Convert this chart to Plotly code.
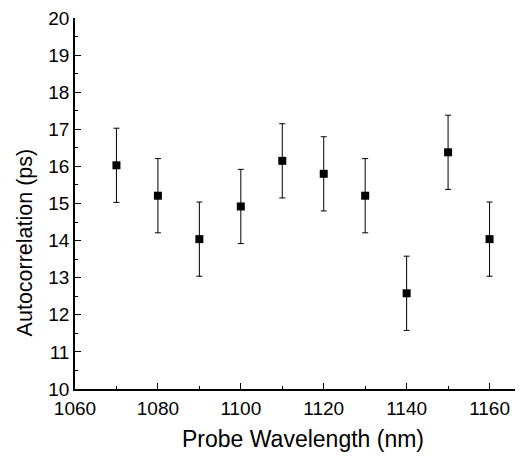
import plotly.graph_objects as go

wavelength = [1070, 1080, 1090, 1100, 1110, 1120, 1130, 1140, 1150, 1160]
autocorr = [16.03, 15.21, 14.04, 14.92, 16.15, 15.80, 15.21, 12.58, 16.38, 14.04]
error = [1.0, 1.0, 1.0, 1.0, 1.0, 1.0, 1.0, 1.0, 1.0, 1.0]

x_ticks = [1060, 1080, 1100, 1120, 1140, 1160]
y_ticks = [10, 11, 12, 13, 14, 15, 16, 17, 18, 19, 20]

fig = go.Figure(go.Scatter(
    x=wavelength, y=autocorr, mode="markers",
    marker=dict(symbol="square", size=8, color="black"),
    error_y=dict(type="data", array=error, visible=True, color="black", thickness=1, width=3),
))

font = "Liberation Sans, Arial, sans-serif"
fig.update_layout(
    width=523, height=458,
    margin=dict(l=67, r=0, t=10, b=77),
    paper_bgcolor="white", plot_bgcolor="white",
    font=dict(family=font, size=19, color="black"),
    showlegend=False,
)
fig.update_xaxes(
    range=[1060, 1170], tickvals=x_ticks, ticktext=[str(v) for v in x_ticks],
    showgrid=False, zeroline=False, showline=True, linecolor="black", linewidth=1.5,
    ticks="inside", ticklen=6, tickwidth=1.3, tickcolor="black",
    minor=dict(tickvals=[1070, 1090, 1110, 1130, 1150], ticks="inside", ticklen=3, tickwidth=1.3, tickcolor="black"),
    tickfont=dict(size=19), automargin=False, ticklabeloverflow="allow", ticklabelstandoff=1,
)
fig.update_yaxes(
    range=[10, 20], tickvals=y_ticks, ticktext=[str(v) for v in y_ticks],
    showgrid=False, zeroline=False, showline=True, linecolor="black", linewidth=1.5,
    ticks="inside", ticklen=6, tickwidth=1.3, tickcolor="black",
    minor=dict(tickvals=[v + 0.5 for v in y_ticks[:-1]], ticks="inside", ticklen=3, tickwidth=1.3, tickcolor="black"),
    tickfont=dict(size=19), automargin=False, ticklabeloverflow="allow",
)
fig.add_annotation(text="Probe Wavelength (nm)", xref="paper", yref="paper",
                   x=0.5, y=-0.136, xanchor="center", yanchor="middle",
                   showarrow=False, font=dict(size=23))
fig.add_annotation(text="Autocorrelation (ps)", xref="paper", yref="paper",
                   x=-0.109, y=0.396, xanchor="center", yanchor="middle",
                   showarrow=False, textangle=-90, font=dict(size=21.5))
fig.write_html("out.html")
